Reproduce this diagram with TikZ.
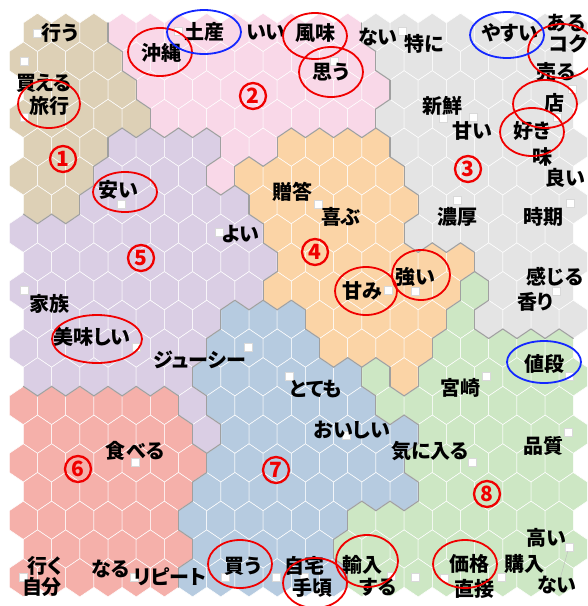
\documentclass[tikz,border=0pt]{standalone}
\usepackage{fontspec}
\setmainfont{Noto Sans CJK JP}[RawFeature=+palt]
\newfontfamily\jp{Noto Sans CJK JP}[RawFeature=+palt]
\definecolor{cl1}{RGB}{221,208,182}
\definecolor{cl2}{RGB}{249,216,232}
\definecolor{cl3}{RGB}{228,228,228}
\definecolor{cl4}{RGB}{251,212,166}
\definecolor{cl5}{RGB}{218,206,228}
\definecolor{cl6}{RGB}{245,176,170}
\definecolor{cl7}{RGB}{182,203,224}
\definecolor{cl8}{RGB}{205,231,196}
\definecolor{bndgray}{RGB}{160,160,160}
\definecolor{ringred}{RGB}{240,0,0}
\definecolor{ringblue}{RGB}{20,40,255}
\def\setrow#1#2{\def\rowj{#1}\setcells{0}#2\relax}
\def\setcells#1#2{%
  \ifx\relax#2\let\mynext\relax
  \else
    \expandafter\xdef\csname cl-#1-\rowj\endcsname{#2}%
    \def\mynext{\expandafter\setcells\expandafter{\the\numexpr#1+1\relax}}%
  \fi\mynext}
\def\getcl#1#2{\ifcsname cl-#1-#2\endcsname\edef\tmpcl{\csname cl-#1-#2\endcsname}\else\def\tmpcl{0}\fi}
\setrow{0}{11122222222233333333}
\setrow{1}{11112222222223333333}
\setrow{2}{11112222222223333333}
\setrow{3}{11111222222223333333}
\setrow{4}{11155552244443333333}
\setrow{5}{11155552444444333333}
\setrow{6}{11555555444444333333}
\setrow{7}{55555555544444333333}
\setrow{8}{55555555544444443333}
\setrow{9}{55555555544444448333}
\setrow{10}{55555557774444483333}
\setrow{11}{55555557777444488888}
\setrow{12}{55555577777784888888}
\setrow{13}{66666657777778888888}
\setrow{14}{66666657777777888888}
\setrow{15}{66666667777777888888}
\setrow{16}{66666677777777888888}
\setrow{17}{66666677777788888888}
\setrow{18}{66666677777888888888}
\setrow{19}{66666677777788888888}
\tikzset{
  hexcell/.style={draw=white, line width=0.5pt},
  bnd/.style={draw=bndgray, line width=1.1pt, line cap=round},
  lbl/.style={font=\jp\bfseries\fontsize{20}{20}\selectfont, inner sep=0pt, text=black},
  num/.style={circle, draw=ringred, line width=2.3pt, text=ringred, minimum size=26pt, inner sep=0pt, font=\jp\bfseries\fontsize{21}{21}\selectfont},
  sq/.style={rectangle, fill=white, draw=gray!30, line width=0.3pt, minimum size=8pt, inner sep=0pt},
  redring/.style={draw=ringred, line width=1.8pt},
  bluering/.style={draw=ringblue, line width=1.8pt}
}
\begin{document}
\begin{tikzpicture}[x=1pt,y=-1pt]
\fill[white] (0,0) rectangle (588,606);
\useasboundingbox (0,0) rectangle (588,606);
\clip (0,0) rectangle (588,606);
% cells
\foreach \j in {0,...,19}{
  \foreach \i in {0,...,19}{
    \pgfmathsetmacro\cx{23.4+28.2*\i+14.1*(1-mod(\j,2))}
    \pgfmathsetmacro\cy{32.4+28.7*\j}
    \getcl{\i}{\j}
    \path[hexcell, fill=cl\tmpcl] (\cx,\cy) +(0,-19.1) -- +(14.1,-9.55) -- +(14.1,9.55) -- +(0,19.1) -- +(-14.1,9.55) -- +(-14.1,-9.55) -- cycle;
  }
}
% cluster boundaries
\foreach \j in {0,...,19}{
  \foreach \i in {0,...,19}{
    \pgfmathsetmacro\cx{23.4+28.2*\i+14.1*(1-mod(\j,2))}
    \pgfmathsetmacro\cy{32.4+28.7*\j}
    \getcl{\i}{\j}\let\me\tmpcl
    \getcl{\the\numexpr\i+1\relax}{\j}
    \ifnum\tmpcl>0 \ifnum\tmpcl=\me\relax\else \draw[bnd] (\cx,\cy) +(14.1,-9.55) -- +(14.1,9.55);\fi\fi
    \ifodd\j\relax \edef\li{\the\numexpr\i-1\relax}\edef\ri{\i}\else \edef\li{\i}\edef\ri{\the\numexpr\i+1\relax}\fi
    \edef\jn{\the\numexpr\j+1\relax}
    \getcl{\li}{\jn}
    \ifnum\tmpcl>0 \ifnum\tmpcl=\me\relax\else \draw[bnd] (\cx,\cy) +(-14.1,9.55) -- +(0,19.1);\fi\fi
    \getcl{\ri}{\jn}
    \ifnum\tmpcl>0 \ifnum\tmpcl=\me\relax\else \draw[bnd] (\cx,\cy) +(0,19.1) -- +(14.1,9.55);\fi\fi
  }
}
% markers
\foreach \p [count=\k] in {(37,33),(24,61),(24,117),(178,31),(334,61),(402,31),(443,118),(473,117),(557,117),(572,89),(121,204),(318,204),(219,232),(457,200),(570,203),(388,290),(415,291),(556,291),(24,290),(136,347),(248,347),(289,376),(486,376),(569,376),(346,435),(472,462),(568,432),(135,462),(569,547),(415,577),(444,578),(501,577),(391,576),(276,577),(304,577),(225,577),(134,577),(23,577)}
  \node[sq] (m\k) at \p {};
\draw[bndgray!70, line width=0.4pt] (m29) -- (560,579);
% labels
\node[lbl] (okonau) at (60,33) {行う};
\node[lbl] (kaeru) at (44,83) {買える};
\node[lbl] (ryoko) at (50,106) {旅行};
\node[lbl] (okinawa) at (161,53) {沖縄};
\node[lbl] (miyage) at (204,32) {土産};
\node[lbl] (ii) at (266,33) {いい};
\node[lbl] (fumi) at (315,33) {風味};
\node[lbl] (omou) at (331,72) {思う};
\node[lbl] (nai1) at (378,37) {ない};
\node[lbl] (tokuni) at (424,44) {特に};
\node[lbl] (yasui) at (510,33) {やすい};
\node[lbl] (aru) at (566,23) {ある};
\node[lbl] (koku) at (568,44) {コク};
\node[lbl] (uru) at (556,72) {売る};
\node[lbl] (mise) at (554,103) {店};
\node[lbl] (shinsen) at (442,106) {新鮮};
\node[lbl] (amai) at (472,131) {甘い};
\node[lbl] (suki) at (532,131) {好き};
\node[lbl] (aji) at (542,157) {味};
\node[lbl] (yoi1) at (565,178) {良い};
\node[lbl] (yasui2) at (118,190) {安い};
\node[lbl] (zoto) at (292,192) {贈答};
\node[lbl] (yorokobu) at (341,217) {喜ぶ};
\node[lbl] (yoi2) at (241,234) {よい};
\node[lbl] (noko) at (457,217) {濃厚};
\node[lbl] (jiki) at (543,217) {時期};
\node[lbl] (kazoku) at (50,304) {家族};
\node[lbl] (amami) at (362,291) {甘み};
\node[lbl] (tsuyoi) at (415,277) {強い};
\node[lbl] (kanjiru) at (555,277) {感じる};
\node[lbl] (kaori) at (535,302) {香り};
\node[lbl] (oishii1) at (92,337) {美味しい};
\node[lbl] (juicy) at (200,360) {ジューシー};
\node[lbl] (nedan) at (544,364) {値段};
\node[lbl] (totemo) at (316,389) {とても};
\node[lbl] (miyazaki) at (460,388) {宮崎};
\node[lbl] (oishii2) at (352,430) {おいしい};
\node[lbl] (kiniiru) at (430,451) {気に入る};
\node[lbl] (hinshitsu) at (543,446) {品質};
\node[lbl] (taberu) at (135,451) {食べる};
\node[lbl] (takai) at (546,538) {高い};
\node[lbl] (kau) at (243,566) {買う};
\node[lbl] (jitaku) at (304,566) {自宅};
\node[lbl] (yunyu) at (362,565) {輸入};
\node[lbl] (kakaku) at (469,564) {価格};
\node[lbl] (konyu) at (524,564) {購入};
\node[lbl] (iku) at (45,566) {行く};
\node[lbl] (naru) at (111,569) {なる};
\node[lbl] (repeat) at (170,577) {リピート};
\node[lbl] (jibun) at (42,587) {自分};
\node[lbl] (tegoro) at (312,588) {手頃};
\node[lbl] (suru) at (378,587) {する};
\node[lbl] (chokusetsu) at (474,589) {直接};
\node[lbl] (nai2) at (557,585) {ない};
% cluster numbers
\node[num] (c1) at (63,159) {1};
\node[num] (c2) at (253,96) {2};
\node[num] (c3) at (468,169) {3};
\node[num] (c4) at (315,252) {4};
\node[num] (c5) at (141,258) {5};
\node[num] (c6) at (78,469) {6};
\node[num] (c7) at (276,470) {7};
\node[num] (c8) at (487,494) {8};
% rings
\draw[redring] (49,104) ellipse [x radius=31pt, y radius=24pt];
\draw[redring] (160,52) ellipse [x radius=32pt, y radius=24pt];
\draw[redring] (315,36) ellipse [x radius=32pt, y radius=23pt];
\draw[redring] (331,72) ellipse [x radius=32pt, y radius=25pt];
\draw[redring] (562,51) ellipse [x radius=34pt, y radius=27pt];
\draw[redring] (545,104) ellipse [x radius=32pt, y radius=24pt];
\draw[redring] (532,132) ellipse [x radius=32pt, y radius=24pt];
\draw[redring] (125,192) ellipse [x radius=32pt, y radius=20pt];
\draw[redring] (366,291) ellipse [x radius=31pt, y radius=24pt];
\draw[redring] (421,275) ellipse [x radius=29pt, y radius=25pt];
\draw[redring] (97,339) ellipse [x radius=45pt, y radius=24pt];
\draw[redring] (240,564) ellipse [x radius=32pt, y radius=24pt];
\draw[redring] (367,561) ellipse [x radius=31pt, y radius=26pt];
\draw[redring] (315,583) ellipse [x radius=32pt, y radius=25pt];
\draw[redring] (465,564) ellipse [x radius=32pt, y radius=24pt];
\draw[bluering] (204,32) ellipse [x radius=37pt, y radius=22pt];
\draw[bluering] (507,35) ellipse [x radius=37pt, y radius=23pt];
\draw[bluering] (544,362) ellipse [x radius=37pt, y radius=21pt];
\end{tikzpicture}
\end{document}
